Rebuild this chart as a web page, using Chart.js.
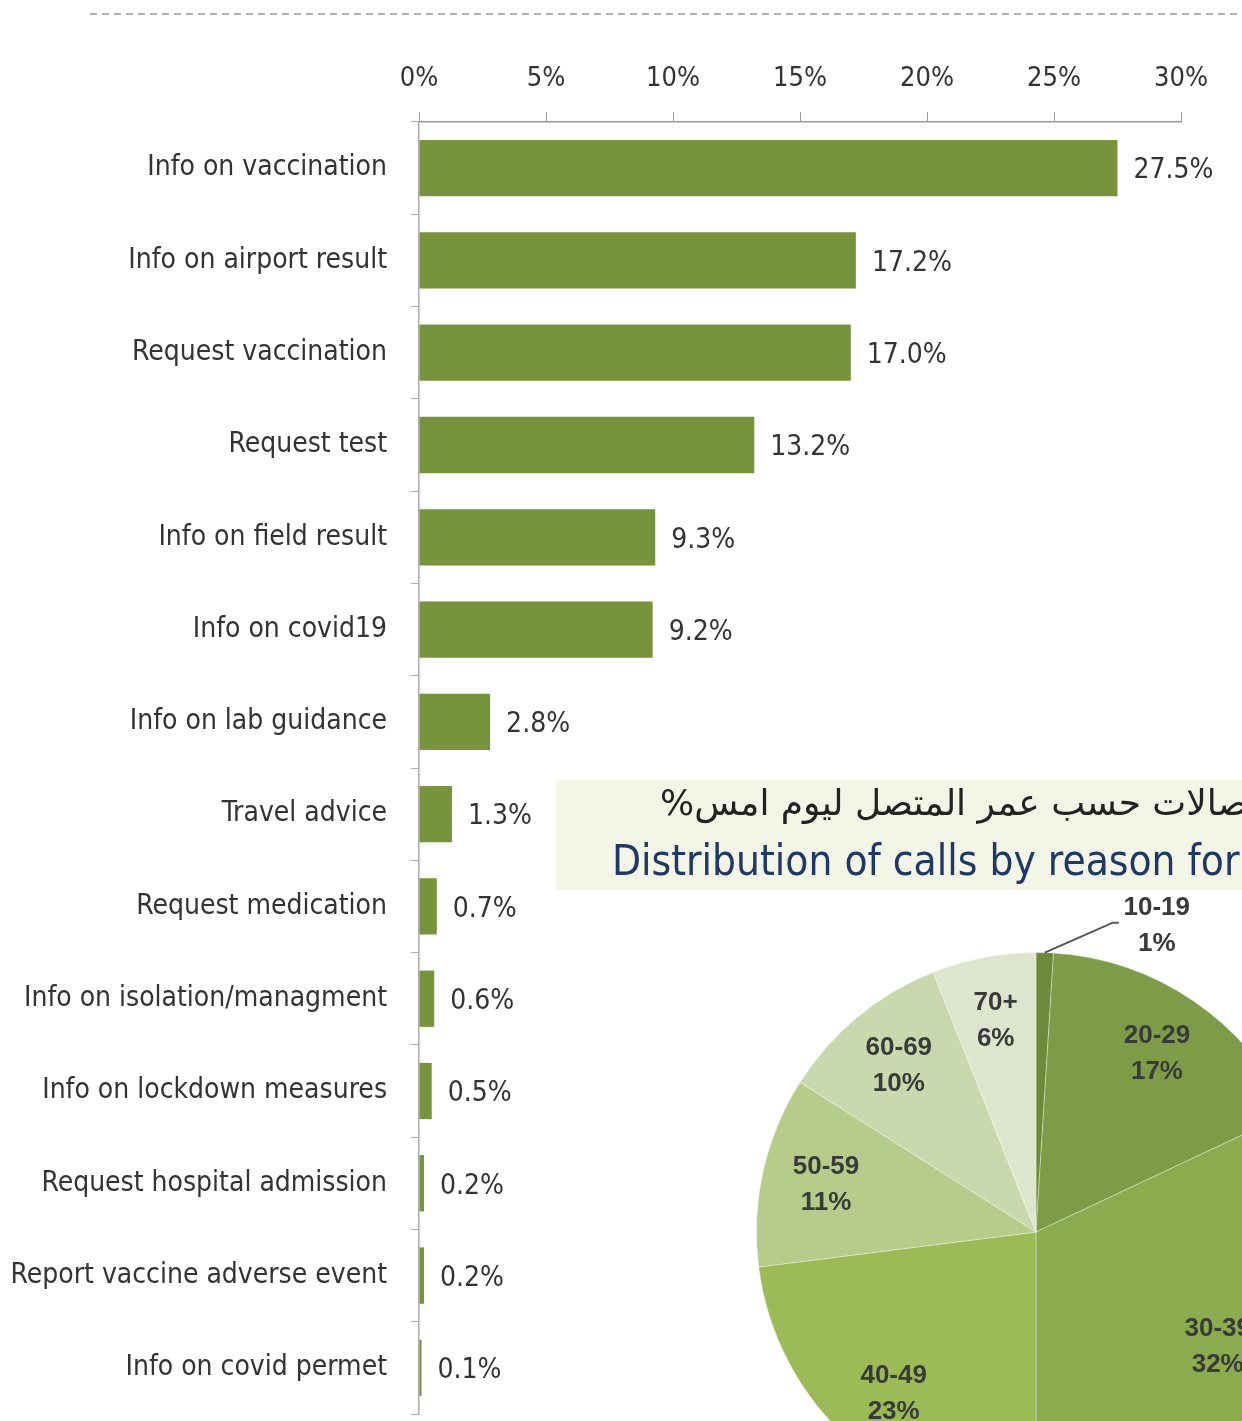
<!DOCTYPE html>
<html>
<head>
<meta charset="utf-8">
<script src="https://cdn.jsdelivr.net/npm/chart.js@4"></script>
<style>
  html, body { margin: 0; padding: 0; background: #fff; overflow: hidden; width: 1242px; height: 1421px; }
  #bars { position: absolute; left: 0; top: 0; }
  #pie { position: absolute; left: 740px; top: 890px; }
</style>
</head>
<body>
<canvas id="bars" width="1242" height="1421"></canvas>
<canvas id="pie" width="600" height="622"></canvas>
<script>
const reasons = [
  'Info on vaccination', 'Info on airport result', 'Request vaccination', 'Request test',
  'Info on field result', 'Info on covid19', 'Info on lab guidance', 'Travel advice',
  'Request medication', 'Info on isolation/managment', 'Info on lockdown measures',
  'Request hospital admission', 'Report vaccine adverse event', 'Info on covid permet'
];
const shares = [27.5, 17.2, 17.0, 13.2, 9.3, 9.2, 2.8, 1.3, 0.7, 0.6, 0.5, 0.2, 0.2, 0.1];
const axisMax = 30;
const axisStep = 5;

const ageGroups = ['10-19', '20-29', '30-39', '40-49', '50-59', '60-69', '70+'];
const agePct = [1, 17, 32, 23, 11, 10, 6];
const ageColors = ['#6d8a3b', '#7e9c47', '#8bab4f', '#9cbb57', '#b5cc8b', '#c9d9ad', '#dde6cc'];

const titleAr = 'توزيع الاتصالات حسب عمر المتصل ليوم امس%';
const titleEn = 'Distribution of calls by reason for age group';

const narrow = "'Liberation Sans Narrow', 'DejaVu Sans Condensed', sans-serif";
const textCol = '#333333';
const barCol = '#77933c';

// dashed rule at the top and the pie title box
const pageDecor = {
  id: 'pageDecor',
  beforeDraw(chart) {
    const ctx = chart.ctx;
    ctx.save();
    ctx.strokeStyle = '#b0b0b0';
    ctx.lineWidth = 2;
    ctx.setLineDash([7, 5]);
    ctx.beginPath();
    ctx.moveTo(90, 14);
    ctx.lineTo(1242, 14);
    ctx.stroke();
    ctx.restore();
  },
  afterDraw(chart) {
    const ctx = chart.ctx;
    ctx.save();
    ctx.fillStyle = '#f3f5e6';
    ctx.fillRect(556, 780, 700, 110);
    ctx.fillStyle = '#222';
    ctx.font = "36px 'DejaVu Sans', sans-serif";
    ctx.direction = 'rtl';
    ctx.textAlign = 'left';
    ctx.textBaseline = 'middle';
    ctx.fillText(titleAr, 660, 806);
    ctx.direction = 'ltr';
    ctx.fillStyle = '#1f3864';
    ctx.font = "42px " + narrow;
    ctx.fillText(titleEn, 612, 864);
    ctx.restore();
  }
};

const barLabels = {
  id: 'barLabels',
  afterDatasetsDraw(chart) {
    const ctx = chart.ctx;
    const meta = chart.getDatasetMeta(0);
    ctx.save();
    ctx.fillStyle = textCol;
    ctx.font = '28px ' + narrow;
    ctx.textAlign = 'left';
    ctx.textBaseline = 'middle';
    meta.data.forEach((bar, i) => {
      ctx.fillText(shares[i].toFixed(1) + '%', bar.x + 16, bar.y + 3);
    });
    ctx.restore();
  }
};

new Chart(document.getElementById('bars'), {
  type: 'bar',
  data: {
    labels: reasons,
    datasets: [{
      data: shares,
      backgroundColor: barCol,
      barPercentage: 0.61,
      categoryPercentage: 1
    }]
  },
  options: {
    indexAxis: 'y',
    responsive: false,
    animation: false,
    devicePixelRatio: 1,
    layout: { padding: { left: 0, right: 61, top: 40, bottom: 7 } },
    plugins: { legend: { display: false }, tooltip: { enabled: false } },
    scales: {
      x: {
        position: 'top',
        min: 0,
        max: axisMax,
        ticks: {
          stepSize: axisStep,
          callback: v => v + '%',
          color: textCol,
          font: { family: narrow, size: 27 },
          padding: 17
        },
        grid: { drawOnChartArea: false, tickLength: 10, color: '#999' },
        border: { color: '#999', width: 1.5 },
        afterFit: s => { s.height = 82; s.paddingLeft = 0; s.paddingRight = 0; }
      },
      y: {
        ticks: {
          color: textCol,
          font: { family: narrow, size: 28 },
          padding: 24
        },
        grid: { drawOnChartArea: false, tickLength: 8, color: '#aaa', offset: true },
        border: { color: '#aaa', width: 1.5 },
        afterFit: s => { s.width = 419; s.paddingTop = 0; s.paddingBottom = 0; }
      }
    }
  },
  plugins: [pageDecor, barLabels]
});

const pieLabels = {
  id: 'pieLabels',
  afterDatasetsDraw(chart) {
    const ctx = chart.ctx;
    const meta = chart.getDatasetMeta(0);
    ctx.save();
    ctx.fillStyle = '#3a3a3a';
    ctx.font = "bold 26px 'Liberation Sans', sans-serif";
    ctx.textAlign = 'center';
    ctx.textBaseline = 'middle';
    meta.data.forEach((arc, i) => {
      const p = arc.getProps(['x', 'y', 'startAngle', 'endAngle', 'outerRadius']);
      const mid = (p.startAngle + p.endAngle) / 2;
      const txt = agePct[i] + '%';
      if (i === 0) {
        // small slice: label outside with a leader line
        const sx = p.x + p.outerRadius * Math.cos(mid);
        const sy = p.y + p.outerRadius * Math.sin(mid);
        const ex = sx + 68, ey = sy - 30;
        ctx.strokeStyle = '#555';
        ctx.lineWidth = 2;
        ctx.beginPath();
        ctx.moveTo(sx, sy);
        ctx.lineTo(ex, ey);
        ctx.lineTo(ex + 6, ey);
        ctx.stroke();
        ctx.fillText(ageGroups[i], ex + 44, ey - 15);
        ctx.fillText(txt, ex + 44, ey + 21);
      } else {
        const r = p.outerRadius * 0.77;
        const cx = p.x + r * Math.cos(mid);
        const cy = p.y + r * Math.sin(mid);
        ctx.fillText(ageGroups[i], cx, cy - 18);
        ctx.fillText(txt, cx, cy + 18);
      }
    });
    ctx.restore();
  }
};

new Chart(document.getElementById('pie'), {
  type: 'pie',
  data: {
    labels: ageGroups,
    datasets: [{
      data: agePct,
      backgroundColor: ageColors,
      borderWidth: 1,
      borderColor: 'rgba(255,255,255,0.35)'
    }]
  },
  options: {
    responsive: false,
    animation: false,
    devicePixelRatio: 1,
    layout: { padding: { left: 16, right: 24, top: 62, bottom: 0 } },
    plugins: { legend: { display: false }, tooltip: { enabled: false } }
  },
  plugins: [pieLabels]
});
</script>
</body>
</html>
